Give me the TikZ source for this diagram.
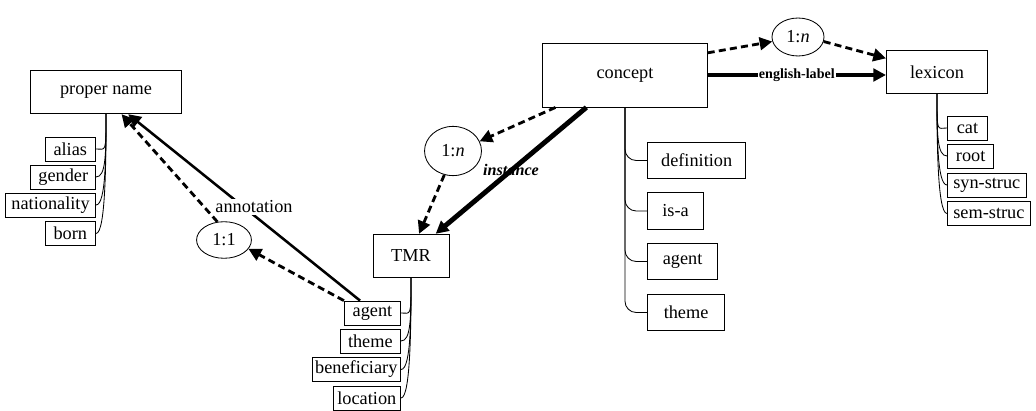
\documentclass[tikz,border=0pt]{standalone}
\usepackage{fontspec}
\setmainfont{Liberation Serif}
\usetikzlibrary{arrows.meta,shapes.geometric}

\begin{document}
\begin{tikzpicture}[x=0.025cm,y=-0.025cm,
  box/.style={draw,line width=0.6pt,inner sep=0pt,font=\fontsize{13}{15}\selectfont},
  slot/.style={box,minimum height=17pt},
  bigslot/.style={box,minimum height=26pt},
  card/.style={box,ellipse},
  link/.style={line width=#1,-{Triangle[length=9pt,width=9pt]}},
  link/.default=1.8pt,
  dlink/.style={link=2pt,dash pattern=on 5pt off 3pt},
  branch/.style={line width=0.6pt}]
  \useasboundingbox (0,0) rectangle (1036,411);

  % --- Proper name ---
  \node[box,minimum width=107pt,minimum height=31pt] (pn) at (106,92) {proper name};
  \node[slot,minimum width=36pt,anchor=east] (alias) at (96,149) {alias};
  \node[slot,minimum width=46pt,anchor=east] (gender) at (96,177) {gender};
  \node[slot,minimum width=64pt,anchor=east] (nation) at (96,205) {nationality};
  \node[slot,minimum width=36pt,anchor=east] (born) at (96,233.5) {born};
  \foreach \s in {alias,gender,nation,born}
    \draw[branch] (pn.south) .. controls +(0,40) and +(10,0) .. (\s.east);

  % --- TMR ---
  \node[box,minimum width=54pt,minimum height=31pt] (tmr) at (411,256) {TMR};
  \node[slot,minimum width=40pt,anchor=east] (tagent) at (401,313) {agent};
  \node[slot,minimum width=43pt,anchor=east] (ttheme) at (401,341) {theme};
  \node[slot,minimum width=63pt,anchor=east] (tbenef) at (401,369.5) {beneficiary};
  \node[slot,minimum width=48pt,anchor=east] (tloc) at (401,398) {location};
  \foreach \s in {tagent,ttheme,tbenef,tloc}
    \draw[branch] (tmr.south) .. controls +(0,40) and +(10,0) .. (\s.east);

  % --- Concept ---
  \node[box,minimum width=117pt,minimum height=45.5pt] (concept) at (625,75) {concept};
  \node[bigslot,minimum width=70pt,anchor=west] (cdef) at (647,160.5) {definition};
  \node[bigslot,minimum width=40pt,anchor=west] (cisa) at (647,211) {is-a};
  \node[bigslot,minimum width=50pt,anchor=west] (cagent) at (647,261.5) {agent};
  \node[bigslot,minimum width=55pt,anchor=west] (ctheme) at (647,312.5) {theme};
  \foreach \s in {cdef,cisa,cagent,ctheme}
    \draw[branch,rounded corners=8pt] (concept.south) |- (\s.west);

  % --- Lexicon ---
  \node[box,minimum width=72pt,minimum height=31pt] (lex) at (937,72) {lexicon};
  \node[slot,minimum width=28.5pt,anchor=west] (lcat) at (947,128) {cat};
  \node[slot,minimum width=33pt,anchor=west] (lroot) at (947,156) {root};
  \node[slot,minimum width=56pt,anchor=west] (lsyn) at (947,185) {syn-struc};
  \node[slot,minimum width=59pt,anchor=west] (lsem) at (947,213.5) {sem-struc};
  \foreach \s in {lcat,lroot,lsyn,lsem}
    \draw[branch] (lex.south) .. controls +(0,40) and +(-10,0) .. (\s.west);

  % --- Cardinalities ---
  \node[card,minimum width=39pt,minimum height=26pt] (one) at (224,240) {1:1};
  \node[card,minimum width=40.5pt,minimum height=35pt] (manyL) at (453,151) {1:\textit{n}};
  \node[card,minimum width=37pt,minimum height=27pt] (manyT) at (798,37) {1:\textit{n}};

  % --- Links ---
  \draw[link] (tagent.135) -- (pn.-45);
  \draw[dlink] (tagent.north west) -- (one.-20);
  \draw[dlink] (one.110) -- (pn.-55);

  \draw[link=3.5pt] (concept.-140) -- (tmr.42);
  \draw[dlink] (concept.-155) -- (manyL.20);
  \draw[dlink] (manyL.-110) -- (tmr.70);

  \draw[dlink] (concept.15) -- (manyT.190);
  \draw[dlink] (manyT.-10) -- (lex.165);
  \draw[link=3pt] (concept.east) -- node[fill=white,inner sep=1pt,
        font=\bfseries\fontsize{10}{11}\selectfont] (engl) {english-label}
        (concept.east -| lex.west);

  % --- Labels ---
  \node[fill=white,inner sep=1pt,font=\fontsize{13}{15}\selectfont] (annot)
        at (254,207) {annotation};
  \node[font=\bfseries\itshape\fontsize{11.5}{13}\selectfont] (inst)
        at (511,170) {instance};
\end{tikzpicture}
\end{document}
